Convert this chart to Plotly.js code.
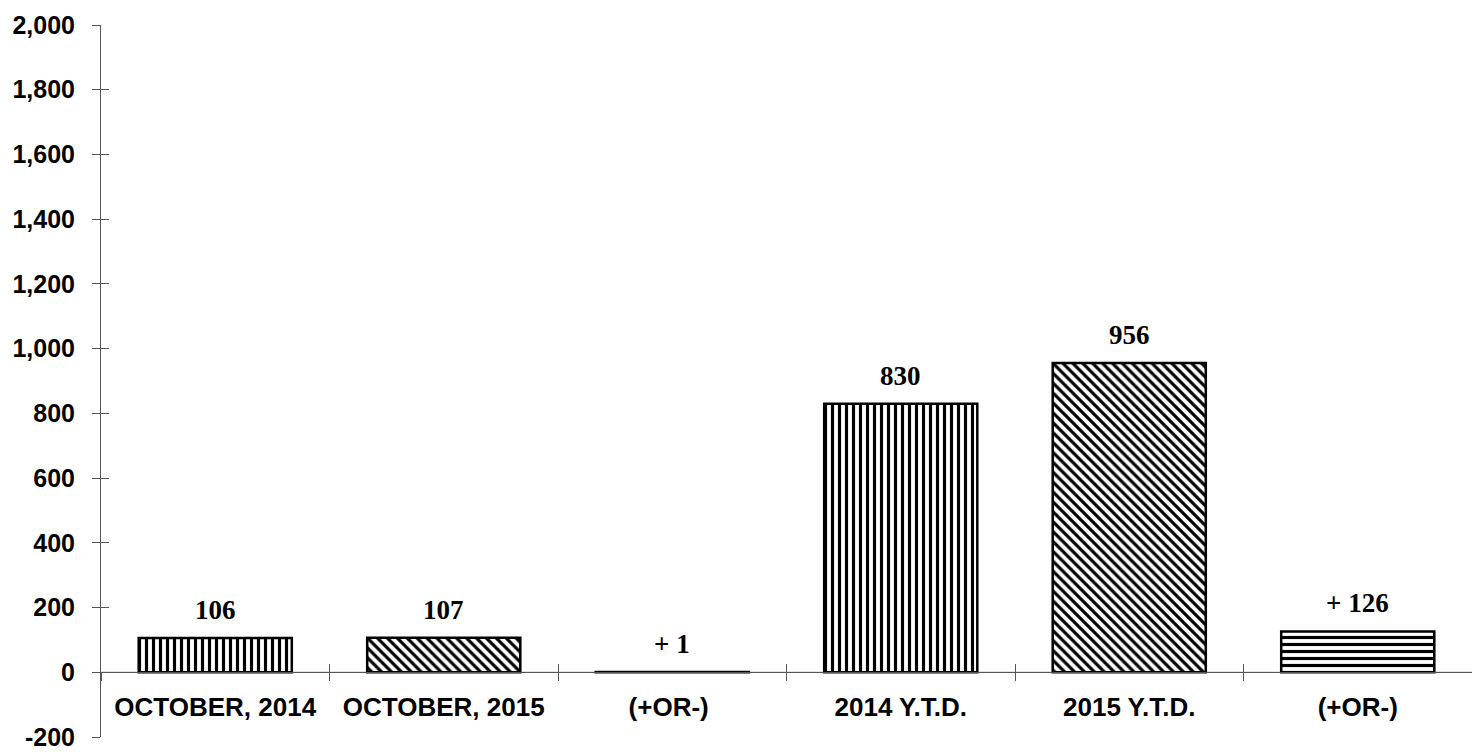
<!DOCTYPE html>
<html>
<head>
<meta charset="utf-8">
<script src="https://cdn.plot.ly/plotly-3.0.1.min.js"></script>
<style>
  html, body { margin: 0; padding: 0; background: #fff; }
  #chart { width: 1472px; height: 754px; }
</style>
</head>
<body>
<div id="chart"></div>
<script>
// categories and values
const categories = ['OCTOBER, 2014', 'OCTOBER, 2015', '(+OR-) ', '2014 Y.T.D.', '2015 Y.T.D.', '(+OR-)'];
const values = [106, 107, 1, 830, 956, 126];
const valueLabels = ['106', '107', '+ 1', '830', '956', '+ 126'];
const patterns = ['|', '\\', '-', '|', '\\', '-'];

const yTickVals = [-200, 0, 200, 400, 600, 800, 1000, 1200, 1400, 1600, 1800, 2000];
const yTickText = yTickVals.map(v => v.toLocaleString('en-US'));
const Y_RANGE = [-200, 2000];

const SANS = { family: 'Liberation Sans, Arial, sans-serif', size: 26, color: '#000', weight: 'bold' };
const YSANS = { ...SANS, size: 25 };
const SERIF = { family: 'Liberation Serif, Times New Roman, serif', size: 27, color: '#000', weight: 'bold' };

// x axis sits on the zero line
const zeroPos = (0 - Y_RANGE[0]) / (Y_RANGE[1] - Y_RANGE[0]);

const bars = {
  type: 'bar',
  x: categories,
  y: values,
  width: 0.67,
  marker: {
    color: '#fff',
    line: { color: '#000', width: 2.5 },
    pattern: { shape: patterns, fillmode: 'replace', fgcolor: '#000', bgcolor: '#fff', size: 7, solidity: 0.45 },
  },
  hoverinfo: 'skip',
};

// invisible twin so the tick marks cross the axis lines
const twin = {
  type: 'scatter', mode: 'markers',
  x: categories, y: values,
  xaxis: 'x2', yaxis: 'y2',
  marker: { opacity: 0 },
  hoverinfo: 'skip',
};

const axisCommon = { showgrid: false, zeroline: false, linecolor: '#555', linewidth: 1, tickcolor: '#555', tickwidth: 1 };

Plotly.newPlot('chart', [bars, twin], {
  width: 1472, height: 754,
  paper_bgcolor: '#fff', plot_bgcolor: '#fff',
  margin: { t: 25, r: 0, b: 17, l: 101 },
  showlegend: false,
  xaxis: {
    ...axisCommon,
    type: 'category',
    anchor: 'free', position: zeroPos,
    showline: true, ticks: 'outside', ticklen: 8, tickson: 'boundaries',
    tickfont: SANS, ticklabelstandoff: 12,
    range: [-0.5, 5.5],
  },
  xaxis2: {
    ...axisCommon,
    type: 'category', overlaying: 'x',
    anchor: 'free', position: zeroPos,
    showline: false, ticks: 'inside', ticklen: 8, tickson: 'boundaries',
    showticklabels: false, range: [-0.5, 5.5],
  },
  yaxis: {
    ...axisCommon,
    range: Y_RANGE, showline: true,
    ticks: 'outside', ticklen: 8,
    tickvals: yTickVals, ticktext: yTickText,
    tickfont: YSANS, ticklabelstandoff: 12,
    ticklabeloverflow: 'allow',
  },
  yaxis2: {
    ...axisCommon,
    range: Y_RANGE, overlaying: 'y', side: 'left',
    showline: false, ticks: 'inside', ticklen: 8,
    tickvals: yTickVals, showticklabels: false,
  },
  shapes: [{
    type: 'line', xref: 'paper', x0: 0, x1: 1, yref: 'y', y0: 0, y1: 0,
    line: { color: '#888', width: 1 }, layer: 'below',
  }],
  annotations: categories.map((c, i) => ({
    x: c, y: values[i], xref: 'x', yref: 'y',
    text: valueLabels[i], showarrow: false,
    yanchor: 'bottom', yshift: 11,
    font: SERIF,
  })),
}, { staticPlot: true });
</script>
</body>
</html>
